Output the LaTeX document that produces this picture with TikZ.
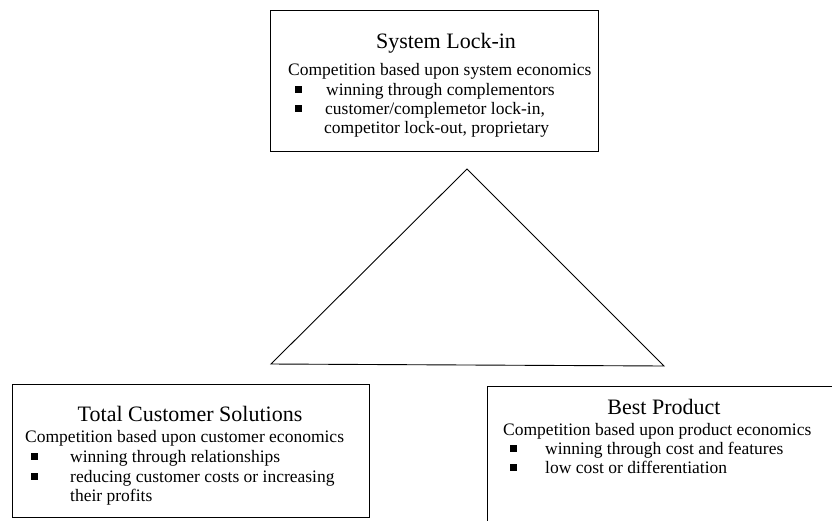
\documentclass[tikz,border=0pt]{standalone}
\usepackage{fontspec}
\setmainfont{Liberation Serif}
\begin{document}
\begin{tikzpicture}[x=1pt,y=-1pt,
  frame/.style={draw, line width=0.9pt},
  ttl/.style={font=\fontsize{22}{26}\selectfont, anchor=base, inner sep=0pt},
  bodytext/.style={font=\fontsize{17.5}{19.5}\selectfont, anchor=base west, inner sep=0pt},
  bul/.style={fill=black, minimum size=7pt, inner sep=0pt, outer sep=0pt}]
\useasboundingbox (0,0) rectangle (832,520);

% boxes
\draw[frame] (270,10) rectangle (598,151);
\draw[frame] (12,384) rectangle (369,517);
\draw[frame] (487,386) -- (840,386);
\draw[frame] (487,386) -- (487,530);

% triangle
\coordinate (apex) at (467,169);
\coordinate (bl) at (271,364);
\coordinate (br) at (664,366);
\draw[line width=0.9pt, line join=miter] (apex) -- (br) -- (bl) -- cycle;

% top box text
\node[ttl] (t1) at (446,48) {System Lock-in};
\node[bodytext] (t1a) at (288,75) {Competition based upon system economics};
\node[bul] (t1b1) at (298.5,89.5) {};
\node[bodytext] (t1b) at (326,95) {winning through complementors};
\node[bul] (t1c1) at (298.5,108.5) {};
\node[bodytext] (t1c) at (325,114) {customer/complemetor lock-in,};
\node[bodytext] (t1d) at (324,133) {competitor lock-out, proprietary};

% bottom-left text
\node[ttl] (t2) at (190,421) {Total Customer Solutions};
\node[bodytext] (t2a) at (25,442) {Competition based upon customer economics};
\node[bul] (t2b1) at (34,456.5) {};
\node[bodytext] (t2b) at (70,462) {winning through relationships};
\node[bul] (t2c1) at (34,476.5) {};
\node[bodytext] (t2c) at (70,482) {reducing customer costs or increasing};
\node[bodytext] (t2d) at (70,501) {their profits};

% bottom-right text
\node[ttl] (t3) at (664,414) {Best Product};
\node[bodytext] (t3a) at (503,435) {Competition based upon product economics};
\node[bul] (t3b1) at (513.5,448.5) {};
\node[bodytext] (t3b) at (545,454) {winning through cost and features};
\node[bul] (t3c1) at (513.5,467.5) {};
\node[bodytext] (t3c) at (545,473) {low cost or differentiation};
\end{tikzpicture}
\end{document}
